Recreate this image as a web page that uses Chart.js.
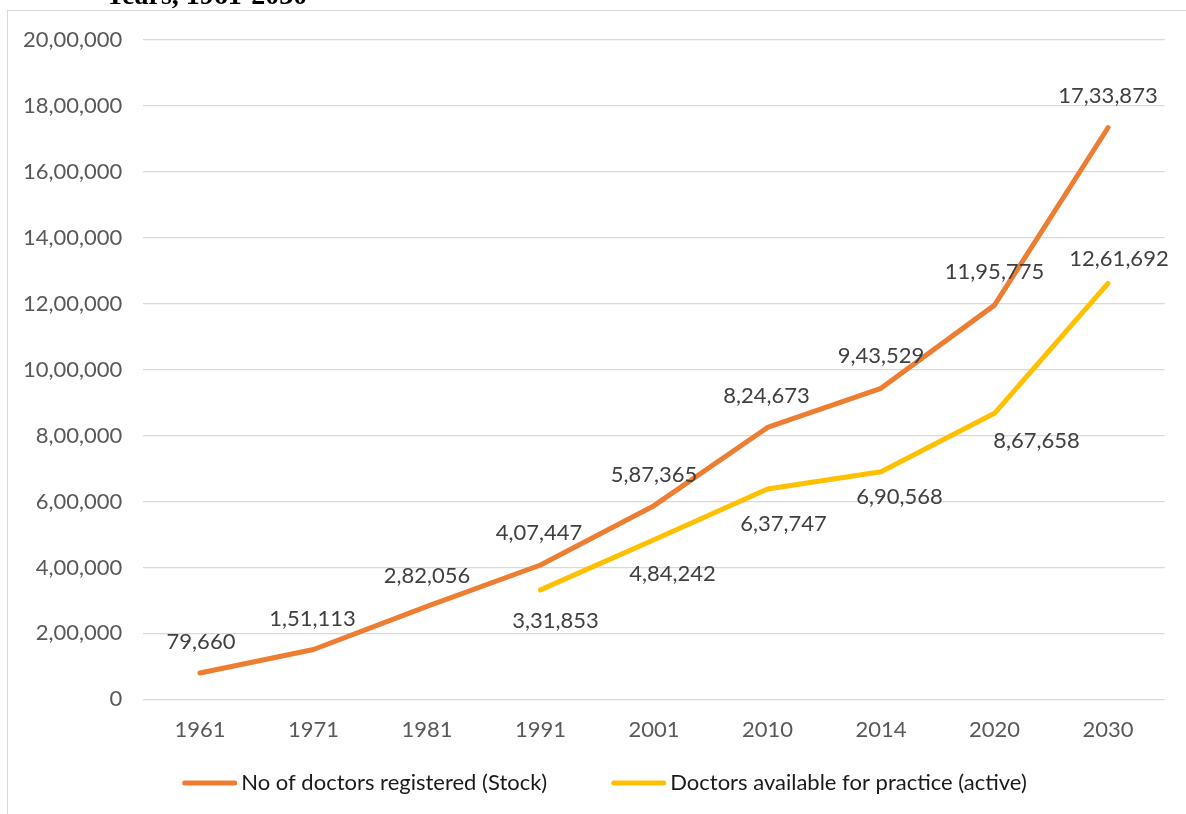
<!DOCTYPE html>
<html>
<head>
<meta charset="utf-8">
<script src="https://cdn.jsdelivr.net/npm/chart.js@4/dist/chart.umd.min.js"></script>
<style>
  html, body { margin: 0; padding: 0; background: #ffffff; }
  #wrap { position: relative; width: 1186px; height: 814px; overflow: hidden; }
  canvas { display: block; }
</style>
</head>
<body>
<div id="wrap"><canvas id="chart" width="1186" height="814"></canvas></div>
<script>
// Census years and projection year
const years = ['1961', '1971', '1981', '1991', '2001', '2010', '2014', '2020', '2030'];

// Registered doctors (stock)
const registeredStock = [79660, 151113, 282056, 407447, 587365, 824673, 943529, 1195775, 1733873];

// Doctors available for practice (active); no figures before 1991
const availableActive = [null, null, null, 331853, 484242, 637747, 690568, 867658, 1261692];

// Value axis ticks
const axisMin = 0;
const axisMax = 2000000;
const axisStep = 200000;

const seriesNames = ['No of doctors registered (Stock)', 'Doctors available for practice (active)'];
const chartTitle = 'Years, 1961-2030';

// Indian digit grouping: 12,61,692
function indianFormat(n) {
  const s = String(Math.round(n));
  if (s.length <= 3) return s;
  const last3 = s.slice(-3);
  let rest = s.slice(0, -3);
  const parts = [];
  while (rest.length > 2) { parts.unshift(rest.slice(-2)); rest = rest.slice(0, -2); }
  if (rest) parts.unshift(rest);
  return parts.join(',') + ',' + last3;
}

const FONT = 'Lato, "Open Sans", "DejaVu Sans", sans-serif';
const FONT_SIZE = 22;

// Frame, cut-off heading and legend drawn around the plot
const decorPlugin = {
  id: 'decor',
  beforeDraw(chart) {
    const ctx = chart.ctx;
    ctx.save();
    ctx.strokeStyle = '#d9d9d9';
    ctx.lineWidth = 1;
    ctx.strokeRect(7.5, 10.5, 2000, 2000);
    ctx.fillStyle = '#000000';
    ctx.font = 'bold 28px "Liberation Serif", "DejaVu Serif", serif';
    ctx.textBaseline = 'alphabetic';
    ctx.textAlign = 'left';
    ctx.fillText(chartTitle, 105, 4);
    ctx.restore();
  },
  afterDraw(chart) {
    const ctx = chart.ctx;
    ctx.save();
    ctx.font = FONT_SIZE + 'px ' + FONT;
    ctx.textBaseline = 'middle';
    ctx.textAlign = 'left';
    const lineLen = 55, gap = 4, itemGap = 64;
    const items = chart.data.datasets.map(ds => ({
      text: ds.label, color: ds.borderColor, w: ctx.measureText(ds.label).width
    }));
    let total = 0;
    items.forEach((it, i) => { total += lineLen + gap + it.w + (i ? itemGap : 0); });
    let x = 604.5 - total / 2;
    const y = 783;
    items.forEach((it, i) => {
      if (i) x += itemGap;
      ctx.strokeStyle = it.color;
      ctx.lineWidth = 5;
      ctx.lineCap = 'round';
      ctx.beginPath();
      ctx.moveTo(x + 2.5, y);
      ctx.lineTo(x + lineLen - 2.5, y);
      ctx.stroke();
      ctx.fillStyle = '#1a1a1a';
      ctx.fillText(it.text, x + lineLen + gap, y);
      x += lineLen + gap + it.w;
    });
    ctx.restore();
  }
};

// Value labels beside each point
const valueLabelPlugin = {
  id: 'valueLabels',
  afterDatasetsDraw(chart) {
    const ctx = chart.ctx;
    ctx.save();
    ctx.font = FONT_SIZE + 'px ' + FONT;
    ctx.fillStyle = '#404040';
    ctx.textAlign = 'center';
    ctx.textBaseline = 'alphabetic';
    chart.data.datasets.forEach((ds, i) => {
      const meta = chart.getDatasetMeta(i);
      meta.data.forEach((pt, j) => {
        const v = ds.data[j];
        if (v === null || v === undefined) return;
        const shift = ds.labelShift[j];
        ctx.fillText(indianFormat(v), pt.x + shift[0], pt.y + shift[1] + 8);
      });
    });
    ctx.restore();
  }
};

new Chart(document.getElementById('chart'), {
  type: 'line',
  data: {
    labels: years,
    datasets: [
      {
        label: seriesNames[0],
        data: registeredStock,
        borderColor: '#ed7d31',
        backgroundColor: '#ed7d31',
        borderWidth: 5,
        borderCapStyle: 'round',
        borderJoinStyle: 'round',
        pointRadius: 0,
        tension: 0,
        labelShift: [[1, -32], [-1, -31.5], [0, -31.5], [-1.5, -32.5], [0, -32], [-1, -32.5], [0, -33], [0, -34.5], [0, -32.5]]
      },
      {
        label: seriesNames[1],
        data: availableActive,
        borderColor: '#ffc000',
        backgroundColor: '#ffc000',
        borderWidth: 5,
        borderCapStyle: 'round',
        borderJoinStyle: 'round',
        pointRadius: 0,
        tension: 0,
        labelShift: [[0, 0], [0, 0], [0, 0], [15, 30.5], [18.5, 33], [16, 34], [18.5, 24.5], [42, 26.5], [11, -25.5]]
      }
    ]
  },
  options: {
    responsive: false,
    animation: false,
    layout: { padding: { left: 0, right: 21.25, top: 40, bottom: 54.7 } },
    plugins: {
      legend: { display: false },
      tooltip: { enabled: false },
      title: { display: false }
    },
    scales: {
      x: {
        offset: true,
        grid: { display: false, drawTicks: false },
        border: { display: false },
        ticks: { color: '#595959', font: { family: FONT, size: FONT_SIZE }, padding: 17, maxRotation: 0 },
        afterFit(scale) { scale.height = 60; }
      },
      y: {
        min: axisMin,
        max: axisMax,
        grid: { color: '#d9d9d9', lineWidth: 1.3, drawTicks: false },
        border: { display: false },
        ticks: {
          stepSize: axisStep,
          color: '#595959',
          font: { family: FONT, size: FONT_SIZE },
          padding: 21,
          callback: v => indianFormat(v)
        },
        afterFit(scale) { scale.width = 143.25; }
      }
    }
  },
  plugins: [decorPlugin, valueLabelPlugin]
});
</script>
</body>
</html>
